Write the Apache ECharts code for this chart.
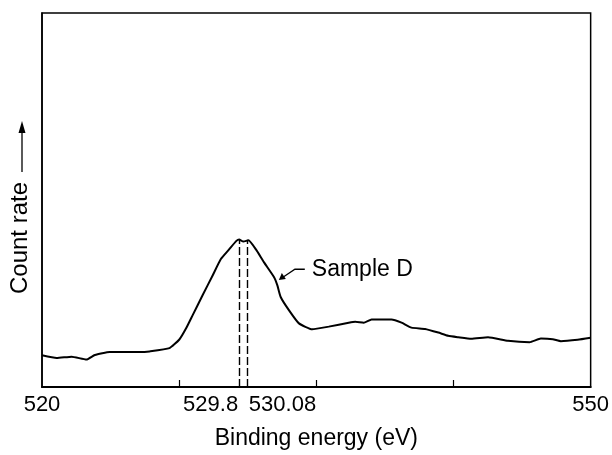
<!DOCTYPE html>
<html>
<head>
<meta charset="utf-8">
<script src="https://cdn.jsdelivr.net/npm/echarts@6/dist/echarts.min.js"></script>
<style>
html,body{margin:0;padding:0;background:#fff;}
#chart{width:612px;height:455px;}
</style>
</head>
<body>
<div id="chart"></div>
<script>
// Binding energy (eV)
var energy = [520.00,520.80,521.62,522.43,522.89,523.70,525.34,525.88,526.97,527.51,527.88,528.24,528.78,529.33,529.78,530.24,530.63,530.78,531.01,531.29,531.69,532.14,532.69,532.87,533.05,533.50,534.05,534.77,535.68,536.77,537.13,537.59,538.02,539.11,539.66,540.20,540.95,541.67,542.21,542.76,543.47,544.39,545.48,546.66,547.28,547.93,548.37,549.29,550.00];
// Count rate (arbitrary units)
var countRate = [8.47,7.75,8.12,7.33,8.54,9.34,9.34,9.52,10.40,12.70,15.69,19.23,24.52,29.81,34.21,36.85,39.07,39.42,38.89,39.23,36.85,33.33,29.36,27.17,24.07,20.56,17.01,15.42,16.14,17.20,17.46,17.20,18.07,18.07,17.20,15.87,15.53,14.55,13.70,13.31,12.88,13.31,12.35,11.98,12.96,12.78,12.25,12.62,13.15];
// Peak markers: position on axis, displayed label, height of dashed line
var peakPos = [530.78, 531.20];
var peakLabels = ['529.8', '530.08'];
var peakTop = 39.4;
// Axis tick labels / tick positions
var xTickLabels = [520, 550];
var xTickMarks = [527.5, 535, 542.5];
var seriesName = 'Sample D';
// annotation anchor (point on curve, elbow, end)
var annoTip = [532.95, 28.6];
var annoElbow = [533.83, 31.48];
var annoEnd = [534.37, 31.48];

var FONT = 'Liberation Sans, Arial, sans-serif';
var chart = echarts.init(document.getElementById('chart'), null, {renderer:'canvas'});

var seriesData = energy.map(function(e,i){return [e, countRate[i]];});

var option = {
  backgroundColor:'#fff',
  animation:false,
  grid:{left:42,right:19,top:13,bottom:64,show:true,borderColor:'#000',borderWidth:1.5,backgroundColor:'transparent'},
  xAxis:{
    type:'value',min:520,max:550,
    name:'Binding energy (eV)',nameLocation:'middle',nameGap:40,
    nameTextStyle:{fontFamily:FONT,fontSize:23,color:'#000'},
    axisLine:{show:true,onZero:false,lineStyle:{color:'#000',width:2}},
    axisTick:{show:true,inside:true,length:7,customValues:xTickMarks,lineStyle:{color:'#000',width:1.2}},
    axisLabel:{show:true,customValues:xTickLabels,margin:7,fontFamily:FONT,fontSize:22,color:'#000'},
    splitLine:{show:false}
  },
  yAxis:{
    type:'value',min:0,max:100,
    axisLine:{show:true,lineStyle:{color:'#000',width:1.5}},
    axisTick:{show:false},axisLabel:{show:false},splitLine:{show:false}
  },
  series:[{
    name:seriesName,type:'line',data:seriesData,showSymbol:false,smooth:0.15,
    lineStyle:{color:'#000',width:2},
    markLine:{
      silent:true,symbol:['none','none'],
      lineStyle:{color:'#000',width:1.4,type:[8,3]},
      label:{show:false},
      data:peakPos.map(function(p){return [{coord:[p,0]},{coord:[p,peakTop]}];})
    }
  }]
};
chart.setOption(option);

function px(pt){return chart.convertToPixel({gridIndex:0}, pt);}
var p1 = px([peakPos[0],0]);
var p2 = px([peakPos[1],0]);
var tip = px(annoTip), elbow = px(annoElbow), end = px(annoEnd);

var graphics = [
  {type:'text',x:p1[0]-1,y:p1[1]+7,style:{text:peakLabels[0],font:'22px '+FONT,fill:'#000',textAlign:'right',textVerticalAlign:'top'}},
  {type:'text',x:p2[0]+2,y:p2[1]+7,style:{text:peakLabels[1],font:'22px '+FONT,fill:'#000',textAlign:'left',textVerticalAlign:'top'}},
  // Sample D annotation
  {type:'polyline',shape:{points:[[tip[0]+3,tip[1]-2],elbow,end]},style:{stroke:'#000',lineWidth:1.3,fill:null}},
  {type:'polygon',shape:{points:[[tip[0],tip[1]],[tip[0]+3,tip[1]-7],[tip[0]+7,tip[1]-1]]},style:{fill:'#000'}},
  {type:'text',x:end[0]+7,y:end[1],style:{text:seriesName,font:'23px '+FONT,fill:'#000',textAlign:'left',textVerticalAlign:'middle'}},
  // y axis label and arrow
  {type:'text',x:20,y:238,rotation:Math.PI/2,style:{text:'Count rate',font:'24px '+FONT,fill:'#000',textAlign:'center',textVerticalAlign:'middle'}},
  {type:'line',shape:{x1:22,y1:172,x2:22,y2:130},style:{stroke:'#000',lineWidth:1.3}},
  {type:'polygon',shape:{points:[[22,121],[18.5,133],[25.5,133]]},style:{fill:'#000'}}
];
chart.setOption({graphic:graphics});
</script>
</body>
</html>
